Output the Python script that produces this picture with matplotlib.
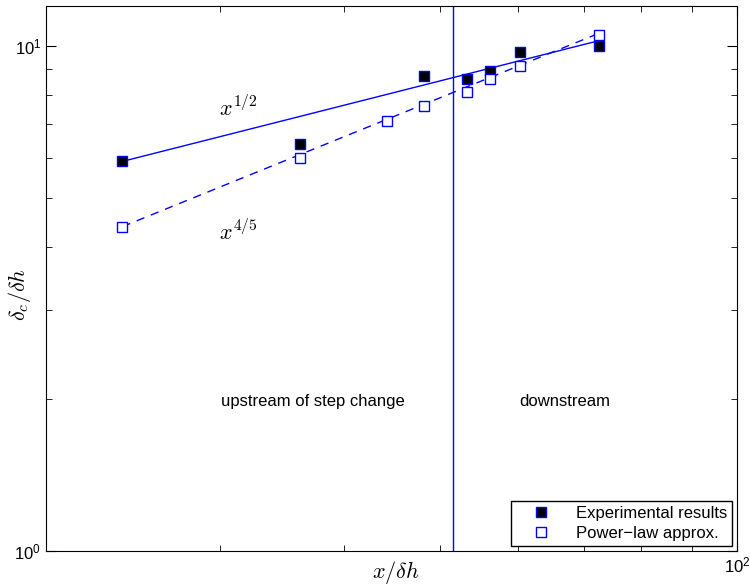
import matplotlib.pyplot as plt
from matplotlib.ticker import LogLocator, NullFormatter

plt.rcParams['font.family'] = ['Liberation Sans', 'DejaVu Sans']
plt.rcParams['mathtext.fontset'] = 'cm'

# datos
x_exp = [23.9, 36.1, 48.2, 53.3, 56.2, 60.3, 72.5]
y_exp = [5.91, 6.39, 8.72, 8.60, 8.92, 9.73, 10.0]

x_pow = [23.9, 36.1, 44.2, 48.2, 53.3, 56.2, 60.3, 72.5]
y_pow = [4.39, 6.00, 7.10, 7.60, 8.11, 8.60, 9.11, 10.5]

# rectas de ajuste (extremos)
x_fit = [23.9, 72.5]
y_fit_half = [5.91, 10.25]
y_fit_45 = [4.39, 10.6]

x_step = 51.6

fig = plt.figure(figsize=(7.5, 5.85), dpi=100)
ax = fig.add_axes([0.0613, 0.058, 0.9217, 0.9317])

ax.plot(x_fit, y_fit_half, '-', color='blue', lw=1)
ax.plot(x_fit, y_fit_45, '--', color='blue', lw=1, dashes=(6, 5))
ax.plot(x_exp, y_exp, 's', color='blue', mfc='black', mec='blue', ms=6.5, mew=1,
        label='Experimental results')
ax.plot(x_pow, y_pow, 's', color='blue', mfc='white', mec='blue', ms=6.5, mew=1,
        label='Power\u2212law approx.')
ax.axvline(x_step, color='blue', lw=1)

ax.set_xscale('log')
ax.set_yscale('log')
ax.set_xlim(20, 100)
ax.set_ylim(1, 12)

ax.xaxis.set_minor_locator(LogLocator(subs=range(2, 10)))
ax.yaxis.set_minor_locator(LogLocator(subs=range(2, 10)))
ax.xaxis.set_minor_formatter(NullFormatter())
ax.yaxis.set_minor_formatter(NullFormatter())
ax.tick_params(which='both', direction='in', top=True, right=True, labelsize=12)
ax.tick_params(which='major', length=7)
ax.tick_params(which='minor', length=4)

ax.text(31.3, 7.52, r'$x^{1/2}$', fontsize=16, ha='center', va='center')
ax.text(31.3, 4.27, r'$x^{4/5}$', fontsize=16, ha='center', va='center')
ax.text(37.2, 1.98, 'upstream of step change', fontsize=12, ha='center', va='center')
ax.text(67.0, 1.98, 'downstream', fontsize=12, ha='center', va='center')

ax.set_xlabel(r'$x/\delta h$', fontsize=16, va='center')
ax.xaxis.set_label_coords(0.5065, -0.0385)
ax.set_ylabel(r'$\delta_c/\delta h$', fontsize=16, va='center')
ax.yaxis.set_label_coords(-0.0376, 0.47)

leg = ax.legend(loc='lower right', fontsize=12, fancybox=False, edgecolor='black',
                borderaxespad=0.3, handlelength=3, handletextpad=0.6,
                labelspacing=0.3, borderpad=0.3, framealpha=1)
leg.get_frame().set_linewidth(1)

plt.savefig('out.png')
